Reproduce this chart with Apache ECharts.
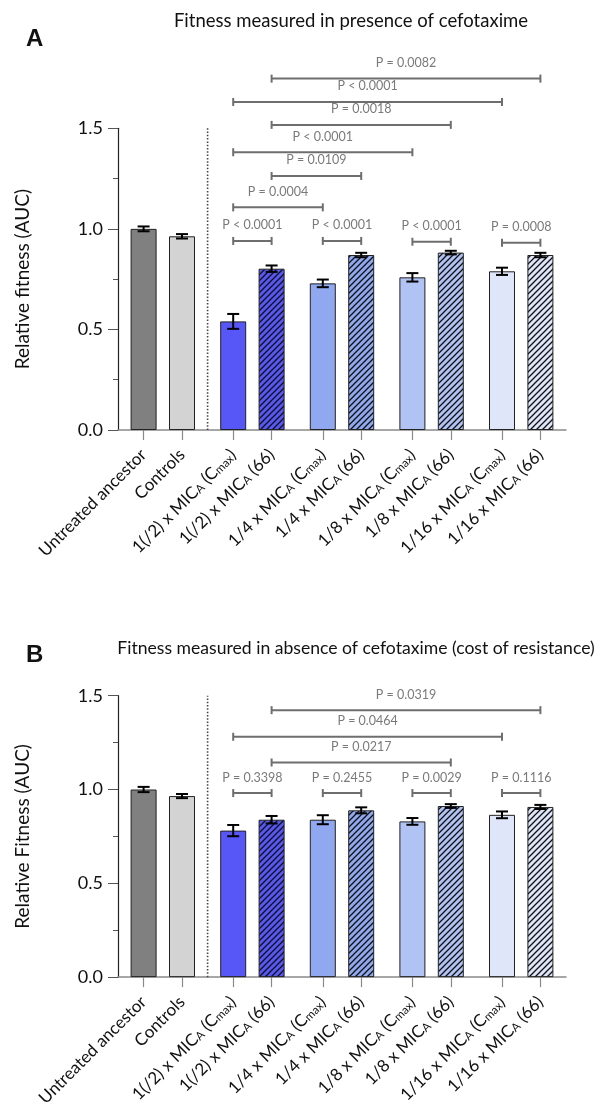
<!DOCTYPE html>
<html><head><meta charset="utf-8">
<script src="https://cdn.jsdelivr.net/npm/echarts@6/dist/echarts.min.js"></script>
<style>html,body{margin:0;padding:0;background:#fff}#c{width:605px;height:1109px}</style>
</head><body><div id="c"></div>
<script>
// ---------- data ----------
const categories = ['Untreated ancestor', 'Controls',
  '1(/2) x MIC_A (C_max)', '1(/2) x MIC_A (66)',
  '1/4 x MIC_A (C_max)', '1/4 x MIC_A (66)',
  '1/8 x MIC_A (C_max)', '1/8 x MIC_A (66)',
  '1/16 x MIC_A (C_max)', '1/16 x MIC_A (66)'];
const valuesA = [1.000, 0.963, 0.540, 0.802, 0.729, 0.870, 0.759, 0.882, 0.789, 0.870];
const errorsA = [0.012, 0.011, 0.037, 0.016, 0.019, 0.011, 0.021, 0.009, 0.018, 0.011];
const valuesB = [1.000, 0.965, 0.781, 0.839, 0.839, 0.889, 0.830, 0.912, 0.865, 0.907];
const errorsB = [0.014, 0.011, 0.030, 0.020, 0.024, 0.016, 0.018, 0.010, 0.018, 0.011];
// comparisons: [bar i, bar j, P label]
const compareA = [[2,3,'P < 0.0001'],[4,5,'P < 0.0001'],[6,7,'P < 0.0001'],[8,9,'P = 0.0008'],
  [2,4,'P = 0.0004'],[3,5,'P = 0.0109'],[2,6,'P < 0.0001'],[3,7,'P = 0.0018'],[2,8,'P < 0.0001'],[3,9,'P = 0.0082']];
const levelsA = [0.940, 0.940, 0.936, 0.931, 1.107, 1.263, 1.381, 1.517, 1.631, 1.747];
const compareB = [[2,3,'P = 0.3398'],[4,5,'P = 0.2455'],[6,7,'P = 0.0029'],[8,9,'P = 0.1116'],
  [3,7,'P = 0.0217'],[2,8,'P = 0.0464'],[3,9,'P = 0.0319']];
const levelsB = [0.981, 0.981, 0.981, 0.981, 1.144, 1.281, 1.423];
const yTicks = [0, 0.5, 1.0, 1.5];

// ---------- styling ----------
const baseColors = ['#808080','#d3d3d3','#5757f8','#5757f8','#8fa8ef','#8fa8ef','#b1c3f4','#b1c3f4','#e0e6fa','#e0e6fa'];
const hatched = [false,false,false,true,false,true,false,true,false,true];
const FONT = 'Lato';

function hatch(color) {
  const s = 6, c = document.createElement('canvas');
  c.width = s; c.height = s;
  const g = c.getContext('2d');
  g.fillStyle = color; g.fillRect(0,0,s,s);
  g.strokeStyle = '#111'; g.lineWidth = 1.3;
  g.beginPath();
  g.moveTo(-1, s+1); g.lineTo(s+1, -1);
  g.moveTo(-1, 1); g.lineTo(1, -1);
  g.moveTo(s-1, s+1); g.lineTo(s+1, s-1);
  g.stroke();
  return { image: c, repeat: 'repeat' };
}

// slot layout on category axis: pairs 3 apart, groups 4 apart
const NSLOT = 36;
const slots = []; { let s = 2; for (let i = 0; i < categories.length; i++) { slots.push(s); s += (i % 2 === 0) ? 3 : 4; } }
const sepSlot = 7;
const axisCats = []; for (let k = 0; k < NSLOT; k++) axisCats.push('#' + k);
slots.forEach((s, i) => axisCats[s] = categories[i]);
const isReal = (v) => !String(v).startsWith('#');
const fmtLabel = (v) => isReal(v) ? v.replace(/_A/g, '{s|A}').replace(/_max/g, '{s|max}') : '';

function makeXAxis(gi) {
  return {
    type: 'category', gridIndex: gi, data: axisCats, boundaryGap: false,
    axisLine: { lineStyle: { color: '#8a8a8a', width: 1.5 } },
    axisTick: { length: 10, interval: (i, v) => isReal(v), lineStyle: { color: '#8a8a8a', width: 1.2 } },
    axisLabel: { interval: (i, v) => isReal(v), rotate: 45, margin: 22, fontSize: 17, color: '#111', fontFamily: FONT,
      formatter: fmtLabel, rich: { s: { fontSize: 11.5, fontFamily: FONT, color: '#111', verticalAlign: 'bottom' } } },
    splitLine: { show: false }
  };
}
function makeYAxis(gi, name) {
  return {
    type: 'value', gridIndex: gi, min: yTicks[0], max: yTicks[yTicks.length-1], interval: yTicks[1]-yTicks[0],
    name: name, nameLocation: 'middle', nameGap: 86, nameTextStyle: { fontSize: 19, color: '#111', fontFamily: FONT },
    axisLine: { show: true, lineStyle: { color: '#222', width: 1.2 } },
    axisTick: { show: true, length: 10, lineStyle: { color: '#555' } },
    minorTick: { show: true, splitNumber: 2, length: 5, lineStyle: { color: '#555' } },
    axisLabel: { fontSize: 18, color: '#111', fontFamily: FONT, margin: 15, formatter: (v) => v.toFixed(1) },
    splitLine: { show: false }, minorSplitLine: { show: false }
  };
}
function barSeries(gi, vals) {
  return {
    type: 'bar', xAxisIndex: gi, yAxisIndex: gi, barWidth: 26, silent: true,
    data: vals.map((v, i) => ({ value: [slots[i], v],
      itemStyle: { color: hatched[i] ? hatch(baseColors[i]) : baseColors[i], borderColor: '#222', borderWidth: 1 } }))
  };
}
function errSeries(gi, vals, errs) {
  return {
    type: 'custom', xAxisIndex: gi, yAxisIndex: gi, silent: true, z: 5,
    data: vals.map((v, i) => [slots[i], v - errs[i], v + errs[i]]),
    encode: { x: 0, y: [1, 2] },
    renderItem: (p, api) => {
      const lo = api.coord([api.value(0), api.value(1)]);
      const hi = api.coord([api.value(0), api.value(2)]);
      const hw = 6, st = { stroke: '#000', lineWidth: 2 };
      return { type: 'group', children: [
        { type: 'line', shape: { x1: lo[0], y1: lo[1], x2: hi[0], y2: hi[1] }, style: st },
        { type: 'line', shape: { x1: lo[0]-hw, y1: lo[1], x2: lo[0]+hw, y2: lo[1] }, style: st },
        { type: 'line', shape: { x1: hi[0]-hw, y1: hi[1], x2: hi[0]+hw, y2: hi[1] }, style: st }
      ]};
    }
  };
}
function bracketSeries(gi, comps, levels) {
  return {
    type: 'custom', xAxisIndex: gi, yAxisIndex: gi, silent: true, clip: false, z: 6,
    data: comps.map((c, k) => [slots[c[0]], slots[c[1]], levels[k]]),
    encode: { x: [0, 1], y: 2 },
    renderItem: (p, api) => {
      const a = api.coord([api.value(0), api.value(2)]);
      const b = api.coord([api.value(1), api.value(2)]);
      const st = { stroke: '#6e6e6e', lineWidth: 2 };
      return { type: 'group', children: [
        { type: 'line', shape: { x1: a[0], y1: a[1], x2: b[0], y2: b[1] }, style: st },
        { type: 'line', shape: { x1: a[0], y1: a[1]-4, x2: a[0], y2: a[1]+4 }, style: st },
        { type: 'line', shape: { x1: b[0], y1: b[1]-4, x2: b[0], y2: b[1]+4 }, style: st },
        { type: 'text', x: (a[0]+b[0])/2, y: a[1]-15.5, style: { text: comps[p.dataIndex][2], fill: '#7a7a7a',
          font: '12.5px ' + FONT, align: 'center', verticalAlign: 'middle' } }
      ]};
    }
  };
}
function sepSeries(gi) {
  return {
    type: 'custom', xAxisIndex: gi, yAxisIndex: gi, silent: true, z: 4,
    data: [[sepSlot, yTicks[0], yTicks[yTicks.length-1]]],
    encode: { x: 0, y: [1, 2] },
    renderItem: (p, api) => {
      const a = api.coord([api.value(0), api.value(1)]);
      const b = api.coord([api.value(0), api.value(2)]);
      return { type: 'line', shape: { x1: a[0], y1: a[1], x2: b[0], y2: b[1] },
        style: { stroke: '#444', lineWidth: 1.6, lineDash: [1.5, 1.8] } };
    }
  };
}

const chart = echarts.init(document.getElementById('c'), null, { renderer: 'canvas' });
chart.setOption({
  animation: false,
  backgroundColor: '#fff',
  title: [
    { text: 'A', left: 21, top: 22, textStyle: { fontSize: 24, fontWeight: 'bold', color: '#111', fontFamily: 'Liberation Sans' } },
    { text: 'Fitness measured in presence of cefotaxime', left: 346, textAlign: 'center', top: 7,
      textStyle: { fontSize: 18.5, fontWeight: 'normal', color: '#111', fontFamily: FONT } },
    { text: 'B', left: 21, top: 638, textStyle: { fontSize: 24, fontWeight: 'bold', color: '#111', fontFamily: 'Liberation Sans' } },
    { text: 'Fitness measured in absence of cefotaxime (cost of resistance)', left: 351, textAlign: 'center', top: 634,
      textStyle: { fontSize: 17.6, fontWeight: 'normal', color: '#111', fontFamily: FONT } }
  ],
  grid: [
    { left: 118, top: 128.3, width: 448, height: 301.7 },
    { left: 118, top: 695.7, width: 448, height: 285 }
  ],
  xAxis: [makeXAxis(0), makeXAxis(1)],
  yAxis: [makeYAxis(0, 'Relative fitness (AUC)'), makeYAxis(1, 'Relative Fitness (AUC)')],
  series: [
    barSeries(0, valuesA), errSeries(0, valuesA, errorsA), bracketSeries(0, compareA, levelsA), sepSeries(0),
    barSeries(1, valuesB), errSeries(1, valuesB, errorsB), bracketSeries(1, compareB, levelsB), sepSeries(1)
  ]
});
</script></body></html>
